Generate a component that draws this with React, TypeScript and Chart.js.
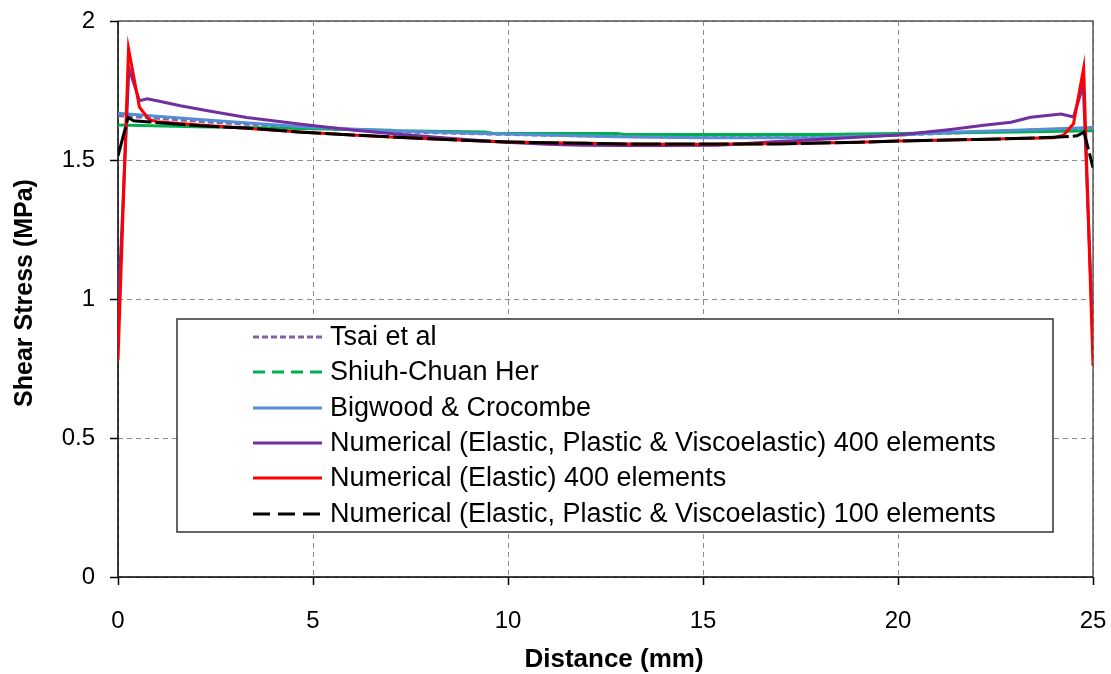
import React, { useEffect, useRef } from "react";
import { Chart, registerables } from "chart.js";

Chart.register(...registerables);

// ---------- DATA ----------
const xTickStep = 5;
const yTickStep = 0.5;
const xMin = 0, xMax = 25;
const yMin = 0, yMax = 2;

const seriesNames = [
  "Tsai et al",
  "Shiuh-Chuan Her",
  "Bigwood & Crocombe",
  "Numerical (Elastic, Plastic & Viscoelastic) 400 elements",
  "Numerical (Elastic) 400 elements",
  "Numerical (Elastic, Plastic & Viscoelastic) 100 elements",
];

const tsaiX = [0, 2.5, 5, 7.5, 10, 12.5, 15, 17.5, 20, 22.5, 25];
const tsaiY = [1.66, 1.635, 1.615, 1.6, 1.592, 1.585, 1.582, 1.582, 1.59, 1.603, 1.615];

const herX = [0, 2, 4.7, 7.0, 7.1, 9.4, 9.6, 12.8, 13.0, 18, 21, 23, 25];
const herY = [1.626, 1.62, 1.613, 1.607, 1.605, 1.601, 1.596, 1.595, 1.592, 1.592, 1.597, 1.601, 1.605];

const bigwoodX = [0, 2, 4.7, 7, 9.4, 12.8, 15, 17.9, 20, 21.35, 23, 25];
const bigwoodY = [1.668, 1.647, 1.62, 1.605, 1.595, 1.584, 1.58, 1.58, 1.59, 1.6, 1.607, 1.617];

const numEPV400X = [0, 0.28, 0.55, 0.75, 1.0, 1.6, 2.3, 3.3, 4.7, 6, 7.2, 8.5, 9.8, 11, 11.9, 13, 14, 15.4, 16.8, 17.5, 18.5, 20, 21.35, 22.2, 22.9, 23.4, 24.18, 24.5, 24.75, 25];
const numEPV400Y = [0.94, 1.83, 1.713, 1.72, 1.713, 1.695, 1.677, 1.653, 1.629, 1.608, 1.593, 1.578, 1.565, 1.557, 1.553, 1.552, 1.552, 1.553, 1.566, 1.57, 1.578, 1.59, 1.61, 1.625, 1.636, 1.654, 1.665, 1.655, 1.77, 0.85];

const numE400X = [0, 0.27, 0.55, 0.8, 1.0, 1.5, 2, 3, 4, 5, 6, 7, 8, 9, 10, 11, 12, 13, 14, 15, 16, 17, 18, 19, 20, 21, 22, 23, 24, 24.25, 24.5, 24.76, 25];
const numE400Y = [0.78, 1.9, 1.69, 1.645, 1.638, 1.632, 1.627, 1.617, 1.607, 1.598, 1.59, 1.583, 1.576, 1.57, 1.565, 1.562, 1.56, 1.558, 1.557, 1.557, 1.558, 1.559, 1.561, 1.564, 1.568, 1.571, 1.574, 1.577, 1.58, 1.59, 1.63, 1.83, 0.76];

const numEPV100X = [0, 0.26, 0.4, 0.8, 2.1, 3.4, 4.7, 6, 7, 8, 9, 10, 11, 12, 13, 14, 15, 16, 17, 18, 19, 20, 21, 22, 23, 24, 24.45, 24.59, 24.77, 25];
const numEPV100Y = [1.515, 1.653, 1.641, 1.637, 1.623, 1.614, 1.6, 1.59, 1.583, 1.576, 1.57, 1.565, 1.562, 1.56, 1.558, 1.558, 1.558, 1.558, 1.558, 1.561, 1.564, 1.568, 1.571, 1.574, 1.577, 1.582, 1.585, 1.587, 1.6, 1.473];

// ---------- STYLES ----------
const colors = ["#8064A2", "#00B050", "#558ED5", "#7030A0", "#FF0000", "#000000"];
const plotDash: number[][] = [[6, 3], [], [], [], [], [30, 4]];
const legendDash: number[][] = [[6, 3], [12, 7], [], [], [], [17, 8]];
const FONT = "'Liberation Sans', Arial, sans-serif";

const toPoints = (xs: number[], ys: number[]) => xs.map((x, i) => ({ x, y: ys[i] }));

const overlayPlugin = {
  id: "overlay",
  beforeDatasetsDraw(chart: any) {
    const { ctx, chartArea: a } = chart;
    ctx.save();
    ctx.setLineDash([]);
    ctx.strokeStyle = "#595959";
    ctx.lineWidth = 1.5;
    ctx.beginPath();
    ctx.moveTo(a.left, a.top);
    ctx.lineTo(a.right, a.top);
    ctx.lineTo(a.right, a.bottom);
    ctx.stroke();
    ctx.strokeStyle = "#000000";
    ctx.beginPath();
    ctx.moveTo(a.left, a.top);
    ctx.lineTo(a.left, a.bottom);
    ctx.lineTo(a.right, a.bottom);
    ctx.stroke();
    ctx.restore();
  },
  afterDraw(chart: any) {
    const { ctx } = chart;
    ctx.save();
    // legend box
    const bx = 177, by = 319, bw = 876, bh = 213;
    ctx.fillStyle = "#ffffff";
    ctx.fillRect(bx, by, bw, bh);
    ctx.strokeStyle = "#333333";
    ctx.lineWidth = 1.5;
    ctx.setLineDash([]);
    ctx.strokeRect(bx, by, bw, bh);
    const rowY = [337, 372, 408, 443, 478, 514];
    ctx.font = `27px ${FONT}`;
    ctx.textBaseline = "middle";
    ctx.textAlign = "left";
    seriesNames.forEach((name, i) => {
      const y = rowY[i];
      ctx.strokeStyle = colors[i];
      ctx.lineWidth = 3;
      ctx.setLineDash(legendDash[i]);
      ctx.beginPath();
      ctx.moveTo(253, y);
      ctx.lineTo(322, y);
      ctx.stroke();
      ctx.setLineDash([]);
      ctx.fillStyle = "#000000";
      ctx.fillText(name, 330, y + 1);
    });
    // axis titles
    ctx.fillStyle = "#000000";
    ctx.font = `bold 25px ${FONT}`;
    ctx.textAlign = "center";
    ctx.textBaseline = "middle";
    ctx.save();
    ctx.translate(25, 293);
    ctx.rotate(-Math.PI / 2);
    ctx.fillText("Shear Stress (MPa)", 0, 0);
    ctx.restore();
    ctx.font = `bold 26px ${FONT}`;
    ctx.fillText("Distance (mm)", 614, 660);
    ctx.restore();
  },
};

export default function App() {
  const ref = useRef<HTMLCanvasElement | null>(null);
  useEffect(() => {
    if (!ref.current) return;
    const sets = [
      [tsaiX, tsaiY],
      [herX, herY],
      [bigwoodX, bigwoodY],
      [numEPV400X, numEPV400Y],
      [numE400X, numE400Y],
      [numEPV100X, numEPV100Y],
    ];
    const datasets = sets.map(([xs, ys], i) => ({
      label: seriesNames[i],
      data: toPoints(xs, ys),
      borderColor: colors[i],
      backgroundColor: colors[i],
      borderWidth: 3,
      borderDash: plotDash[i],
      pointRadius: 0,
      tension: 0,
      fill: false,
      order: -i,
    }));
    const gridCommon = {
      color: "#8c8c8c",
      lineWidth: 1,
      tickLength: 8,
      tickColor: "#000000",
      tickWidth: 1.5,
      drawTicks: true,
    };
    const tickFont = { family: FONT, size: 24 };
    const chart = new Chart(ref.current, {
      type: "line",
      data: { datasets },
      plugins: [overlayPlugin],
      options: {
        animation: false,
        responsive: false,
        devicePixelRatio: 1,
        layout: { padding: { left: 0, top: 21, right: 18, bottom: 0 } },
        plugins: { legend: { display: false }, tooltip: { enabled: false } },
        scales: {
          x: {
            type: "linear",
            min: xMin,
            max: xMax,
            ticks: { stepSize: xTickStep, color: "#000000", font: tickFont, padding: 22, maxRotation: 0,
              callback: (v: any) => String(v) },
            grid: gridCommon,
            border: { display: false, dash: [5, 4] },
            afterFit: (s: any) => { s.height = 97; s.paddingLeft = 0; s.paddingRight = 0; },
          },
          y: {
            type: "linear",
            min: yMin,
            max: yMax,
            ticks: { stepSize: yTickStep, color: "#000000", font: tickFont, padding: 15,
              callback: (v: any) => String(v) },
            grid: gridCommon,
            border: { display: false, dash: [5, 4] },
            afterFit: (s: any) => { s.width = 118; s.paddingTop = 0; s.paddingBottom = 0; },
          },
        },
      } as any,
    });
    return () => chart.destroy();
  }, []);
  return (
    <div style={{ position: "absolute", left: 0, top: 0, width: 1111, height: 674, background: "#ffffff" }}>
      <canvas ref={ref} width={1111} height={674} style={{ display: "block" }} />
    </div>
  );
}
